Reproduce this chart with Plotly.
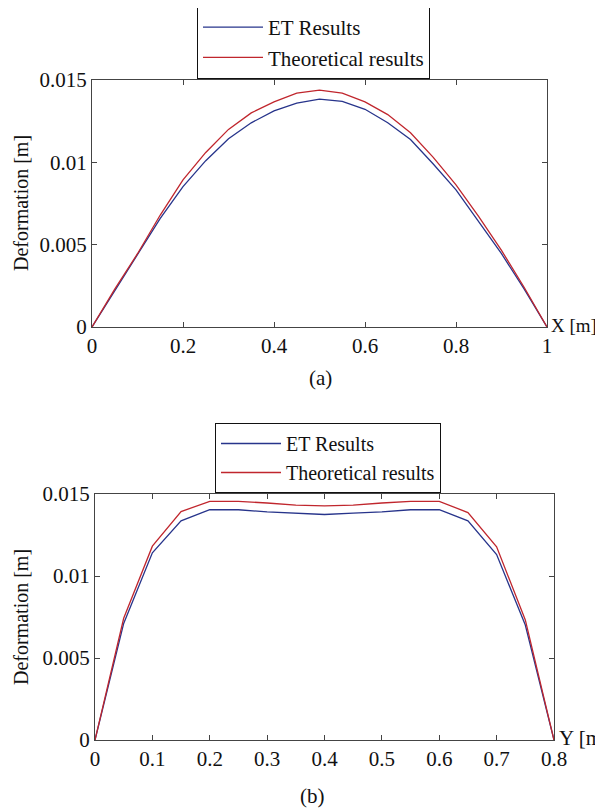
import plotly.graph_objects as go

# ---- data (a) : deformation along X ----
x_a = [0.0, 0.05, 0.1, 0.15, 0.2, 0.25, 0.3, 0.35, 0.4, 0.45, 0.5,
       0.55, 0.6, 0.65, 0.7, 0.75, 0.8, 0.85, 0.9, 0.95, 1.0]
et_a = [0.0, 0.0022, 0.00435, 0.0066, 0.00853, 0.0101, 0.01143, 0.0124, 0.01312, 0.0136, 0.01384,
        0.0137, 0.01322, 0.0124, 0.01139, 0.0099, 0.00833, 0.0064, 0.00445, 0.0023, 0.0]
th_a = [0.0, 0.0023, 0.00445, 0.0068, 0.00894, 0.0106, 0.0120, 0.0130, 0.01367, 0.0142, 0.01439,
        0.0142, 0.01367, 0.0129, 0.0118, 0.0103, 0.00863, 0.0067, 0.00465, 0.0024, 0.0]

# ---- data (b) : deformation along Y ----
y_b = [0.0, 0.05, 0.1, 0.15, 0.2, 0.25, 0.3, 0.35, 0.4, 0.45, 0.5,
       0.55, 0.6, 0.65, 0.7, 0.75, 0.8]
et_b = [0.0, 0.00711, 0.01141, 0.01336, 0.01404, 0.01404, 0.01391, 0.01383, 0.01375, 0.01383, 0.01391,
        0.01404, 0.01404, 0.01336, 0.01131, 0.00701, 0.0]
th_b = [0.0, 0.00742, 0.01182, 0.01393, 0.01455, 0.01455, 0.01445, 0.01432, 0.01428, 0.01432, 0.01445,
        0.01455, 0.01455, 0.01387, 0.01178, 0.00732, 0.0]

xticks_a = [0, 0.2, 0.4, 0.6, 0.8, 1]
xticks_b = [0, 0.1, 0.2, 0.3, 0.4, 0.5, 0.6, 0.7, 0.8]
yticks = [0, 0.005, 0.01, 0.015]

BLUE = "#27348b"
RED = "#c0262d"
FONT = "Liberation Serif, Times New Roman, DejaVu Serif, serif"
OFF = 8            # page body margin in the browser
W, H = 603 - OFF, 811 - OFF

def px(v):
    return (v - OFF) / W

def py(v):
    return 1 - (v - OFF) / H

fig = go.Figure()
fig.add_trace(go.Scatter(x=x_a, y=et_a, mode="lines", name="ET Results",
                         line=dict(color=BLUE, width=1.3), xaxis="x", yaxis="y", legend="legend"))
fig.add_trace(go.Scatter(x=x_a, y=th_a, mode="lines", name="Theoretical results",
                         line=dict(color=RED, width=1.3), xaxis="x", yaxis="y", legend="legend"))
fig.add_trace(go.Scatter(x=y_b, y=et_b, mode="lines", name="ET Results",
                         line=dict(color=BLUE, width=1.3), xaxis="x2", yaxis="y2", legend="legend2"))
fig.add_trace(go.Scatter(x=y_b, y=th_b, mode="lines", name="Theoretical results",
                         line=dict(color=RED, width=1.3), xaxis="x2", yaxis="y2", legend="legend2"))

axis_common = dict(showline=True, linecolor="#444444", linewidth=1.2, mirror="ticks",
                   ticks="inside", ticklen=5, tickcolor="#444444", showgrid=False,
                   zeroline=False, automargin=False,
                   tickfont=dict(family=FONT, size=21, color="#111111"))

fig.update_layout(
    template="none",
    width=W, height=H,
    margin=dict(l=0, r=0, t=0, b=0, autoexpand=False),
    paper_bgcolor="white", plot_bgcolor="white",
    font=dict(family=FONT, size=21, color="#111111"),
    xaxis=dict(domain=[px(92), px(547)], range=[0, 1], tickvals=xticks_a, anchor="y", **axis_common),
    yaxis=dict(domain=[py(327), py(80)], range=[0, 0.015], tickvals=yticks, anchor="x", **axis_common),
    xaxis2=dict(domain=[px(95), px(554)], range=[0, 0.8], tickvals=xticks_b, anchor="y2", **axis_common),
    yaxis2=dict(domain=[py(740), py(494)], range=[0, 0.015], tickvals=yticks, anchor="x2", **axis_common),
    legend=dict(x=px(197), y=py(6), xanchor="left", yanchor="top",
                bordercolor="#111111", borderwidth=1, bgcolor="white",
                font=dict(family=FONT, size=21, color="#111111"), itemwidth=60,
                tracegroupgap=0),
    legend2=dict(x=px(215), y=py(423), xanchor="left", yanchor="top",
                 bordercolor="#111111", borderwidth=1, bgcolor="white",
                 font=dict(family=FONT, size=20, color="#111111"), itemwidth=60,
                 tracegroupgap=0),
    showlegend=True,
)

ann_font = dict(family=FONT, size=21, color="#111111")
lab_font = dict(family=FONT, size=20, color="#111111")
annotations = [
    dict(text="Deformation [m]", x=px(21), y=py(203), textangle=-90, showarrow=False,
         xref="paper", yref="paper", xanchor="center", yanchor="middle", font=lab_font),
    dict(text="Deformation [m]", x=px(21), y=py(617), textangle=-90, showarrow=False,
         xref="paper", yref="paper", xanchor="center", yanchor="middle", font=lab_font),
    dict(text="X [m]", x=px(549), y=py(325), showarrow=False, xref="paper", yref="paper",
         xanchor="left", yanchor="middle", font=dict(family=FONT, size=19, color="#111111")),
    dict(text="Y [m]", x=px(557), y=py(738), showarrow=False, xref="paper", yref="paper",
         xanchor="left", yanchor="middle", font=ann_font),
    dict(text="(a)", x=px(320), y=py(378), showarrow=False, xref="paper", yref="paper",
         xanchor="center", yanchor="middle", font=ann_font),
    dict(text="(b)", x=px(312), y=py(796), showarrow=False, xref="paper", yref="paper",
         xanchor="center", yanchor="middle", font=ann_font),
]
fig.update_layout(annotations=annotations)

fig.write_html("out.html")
